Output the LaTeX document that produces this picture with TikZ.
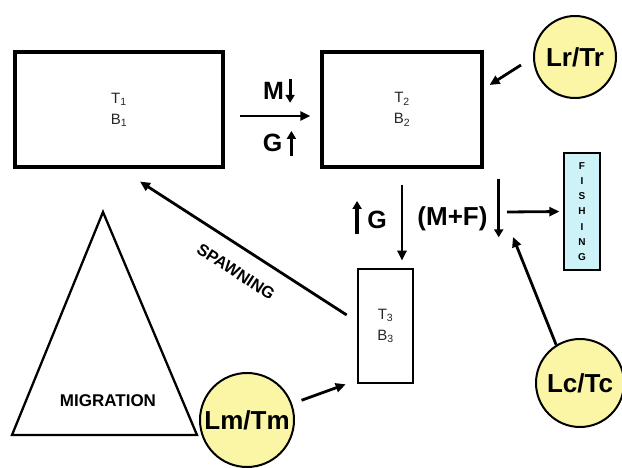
\documentclass[tikz,border=0pt]{standalone}
\usepackage{fontspec}
\setmainfont{Liberation Sans}
\usetikzlibrary{arrows.meta}
\usetikzlibrary{positioning}

\definecolor{circfill}{HTML}{FBF5A6}
\definecolor{fishfill}{HTML}{CDF3F8}

\begin{document}
\begin{tikzpicture}[x=1pt,y=-1pt,
  comp/.style={draw,line width=3.2pt,inner sep=0pt,align=center,text=black!85,font=\fontsize{15}{21}\selectfont},
  ctrl/.style={circle,draw,line width=2pt,fill=circfill,inner sep=0pt,font=\bfseries\fontsize{26}{26}\selectfont},
  lbl/.style={inner sep=0pt,font=\bfseries\fontsize{25}{25}\selectfont},
  conn/.style={line width=2.8pt,-{Triangle[length=10pt,width=9pt]}},
  tick/.style={line width=3.2pt,-{Triangle[length=8pt,width=9pt]}}]
\useasboundingbox (0,0) rectangle (622,468);
% compartments
\node[comp,minimum width=208pt,minimum height=115pt] (t1) at (119,109.5) {T\textsubscript{1}\\B\textsubscript{1}};
\node[comp,minimum width=160pt,minimum height=115pt] (t2) at (402,109.5) {T\textsubscript{2}\\B\textsubscript{2}};
\node[comp,line width=2.6pt,minimum width=55pt,minimum height=114pt] (t3) at (385.5,326) {T\textsubscript{3}\\B\textsubscript{3}};
\node[draw,line width=1.2pt,fill=fishfill,minimum width=36pt,minimum height=117pt,inner sep=0pt,align=center,
  font=\bfseries\fontsize{10}{15.2}\selectfont] (fish) at (582,211.5) {F\\I\\S\\H\\I\\N\\G};
% controls
\node[ctrl,minimum size=82pt] (lr) at (575,57) {Lr/Tr};
\node[ctrl,minimum size=88pt] (lc) at (580,383) {Lc/Tc};
\node[ctrl,minimum size=94pt] (lm) at (247,420) {Lm/Tm};
% migration
\draw[line width=2.3pt] (103,212) -- (197,435) -- (12,435) -- cycle;
\node[inner sep=0pt,font=\bfseries\fontsize{17}{17}\selectfont] (mig) at (108,401) {MIGRATION};
% rate labels
\node[lbl] (m) at (273.5,91) {M};
\node[lbl] (g) at (272.5,143) {G};
\node[lbl] (g3) at (377,220) {G};
\node[lbl,font=\bfseries\fontsize{26}{26}\selectfont] (mf) at (452.5,219) {(M+F)};
\draw[tick] ([xshift=6pt,yshift=3pt]m.north east) -- ([xshift=6pt,yshift=-3pt]m.south east);
\draw[tick] ([xshift=9pt,yshift=-4pt]g.south east) -- ([xshift=9pt,yshift=3pt]g.north east);
\draw[tick] ([xshift=-10pt,yshift=-5pt]g3.south west) -- ([xshift=-10pt,yshift=10pt]g3.north west);
\draw[tick] ([xshift=11pt,yshift=28pt]mf.north east) -- ([xshift=11pt,yshift=-6pt]mf.south east);
\coordinate (mfout) at (507,212);
\coordinate (mfin) at (513,237);
% flows
\path[conn]
    ([yshift=-6.5pt]t1.east) edge[shorten <=15pt,shorten >=10pt] ([yshift=-6.5pt]t2.west)
    (t2.south) edge[shorten <=16pt,shorten >=7pt] (t2.south |- t3.north)
    ([xshift=-10pt,yshift=11pt]t3.west) edge ([xshift=21pt,yshift=-13pt]t1.south)
    (mfout) edge[shorten >=4pt] (fish.west)
    ([xshift=-12pt,yshift=-8pt]lr.west) edge ([xshift=6pt,yshift=24.5pt]t2.east)
    (lm) edge[shorten <=10pt] ([xshift=-11pt]t3.south west)
    (lc.122) edge (mfin)
;
\node[inner sep=0pt,rotate=-33,font=\bfseries\fontsize{16.5}{16.5}\selectfont] (spawn) at (236,272) {SPAWNING};
\end{tikzpicture}
\end{document}
